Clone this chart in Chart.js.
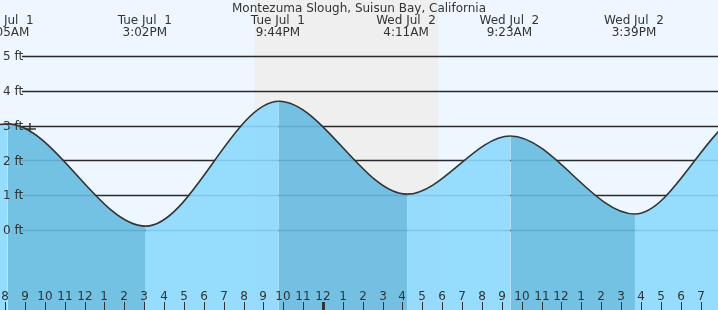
<!DOCTYPE html>
<html>
<head>
<meta charset="utf-8">
<script src="https://cdn.jsdelivr.net/npm/chart.js@4"></script>
<style>
  html, body { margin: 0; padding: 0; background: #eef7ff; overflow: hidden; }
  canvas { display: block; }
</style>
</head>
<body>
<canvas id="tide" width="718" height="310"></canvas>
<script>
// hours relative to midnight Tue Jul 1 -> Wed Jul 2
const tideHours = [-28.5, -22.3, -15.92, -8.97, -2.27, 4.18, 9.38, 15.65, 21.5, 27.8];
const tideHeights = [3.3, 1.2, 3.05, 0.11, 3.7, 1.03, 2.7, 0.46, 3.4, 0.8];

const eventHours = [-15.92, -8.97, -2.27, 4.18, 9.38, 15.65];
const eventDays = ['Tue Jul  1', 'Tue Jul  1', 'Tue Jul  1', 'Wed Jul  2', 'Wed Jul  2', 'Wed Jul  2'];
const eventTimes = ['8:05AM', '3:02PM', '9:44PM', '4:11AM', '9:23AM', '3:39PM'];

const feetLabels = [0, 1, 2, 3, 4, 5];
const nightStart = -3.5;   // sunset
const nightEnd = 5.75;     // sunrise
const nowHour = -14.8;
const nowHeight = 2.9;

const title = 'Montezuma Slough, Suisun Bay, California';

const FONT = '12px "DejaVu Sans", sans-serif';
const TEXT = '#333';
const LIGHT = 'rgba(140,216,252,0.9)';
const DARK = 'rgba(101,186,224,0.9)';

const decor = {
    id: 'decor',
    beforeDraw(chart) {
        const { ctx, chartArea: a, scales: { x } } = chart;
        ctx.save();
        ctx.fillStyle = '#eef7ff';
        ctx.fillRect(0, 0, chart.width, chart.height);
        ctx.fillStyle = '#efefef';
        const x0 = x.getPixelForValue(nightStart);
        const x1 = x.getPixelForValue(nightEnd);
        ctx.fillRect(x0, a.top, x1 - x0, a.bottom - a.top);
        ctx.restore();
    },
    beforeDatasetsDraw(chart) {
        const { ctx, chartArea: a, scales: { y } } = chart;
        ctx.save();
        ctx.strokeStyle = '#2a2a2a';
        ctx.lineWidth = 1.5;
        feetLabels.forEach(v => {
            const py = Math.round(y.getPixelForValue(v)) + 0.5;
            ctx.beginPath();
            ctx.moveTo(22, py);
            ctx.lineTo(a.right, py);
            ctx.stroke();
        });
        ctx.restore();
    },
    afterDatasetsDraw(chart) {
        const { ctx, scales: { x, y } } = chart;
        ctx.save();
        ctx.font = FONT;
        ctx.fillStyle = TEXT;

        // feet labels
        ctx.textAlign = 'left';
        ctx.textBaseline = 'middle';
        feetLabels.forEach(v => {
            ctx.fillText(v + ' ft', 3, y.getPixelForValue(v) + 1);
        });

        // hour ticks along the bottom
        ctx.textAlign = 'center';
        ctx.textBaseline = 'alphabetic';
        ctx.strokeStyle = TEXT;
        for (let h = Math.ceil(x.min); h <= Math.floor(x.max); h++) {
            const px = Math.round(x.getPixelForValue(h)) - 1;
            const label = ((h % 12) + 12) % 12 || 12;
            ctx.fillText(String(label), px, 300);
            if (h === 0) {
                ctx.fillRect(px - 1, 302, 3, 8);
            } else {
                ctx.lineWidth = 1;
                ctx.beginPath();
                ctx.moveTo(px + 0.5, 302);
                ctx.lineTo(px + 0.5, 310);
                ctx.stroke();
            }
        }

        // high / low labels at the top
        eventHours.forEach((h, i) => {
            const px = x.getPixelForValue(h) - 1;
            ctx.fillText(eventDays[i], px, 24);
            ctx.fillText(eventTimes[i], px, 36);
        });

        ctx.fillText(title, chart.width / 2, 12);
        ctx.restore();
    }
};

new Chart(document.getElementById('tide'), {
    type: 'line',
    data: {
        datasets: [{
            data: tideHours.map((h, i) => ({ x: h, y: tideHeights[i] })),
            borderColor: '#333',
            borderWidth: 1.6,
            pointRadius: 0,
            cubicInterpolationMode: 'monotone',
            fill: 'start',
            backgroundColor: LIGHT,
            segment: {
                backgroundColor: c => c.p0.parsed.y > c.p1.parsed.y ? DARK : LIGHT
            }
        }, {
            data: [{ x: nowHour, y: nowHeight }],
            showLine: false,
            pointStyle: 'cross',
            pointRadius: 6,
            borderColor: '#333',
            borderWidth: 1.5,
            fill: false
        }]
    },
    options: {
        responsive: false,
        animation: false,
        devicePixelRatio: 1,
        layout: { padding: 0, autoPadding: false },
        plugins: { legend: { display: false }, tooltip: { enabled: false } },
        scales: {
            x: { type: 'linear', min: -324 / 19.87, max: 394 / 19.87, display: false },
            y: { min: -80 / 34.8, max: 230 / 34.8, display: false }
        }
    },
    plugins: [decor]
});
</script>
</body>
</html>
